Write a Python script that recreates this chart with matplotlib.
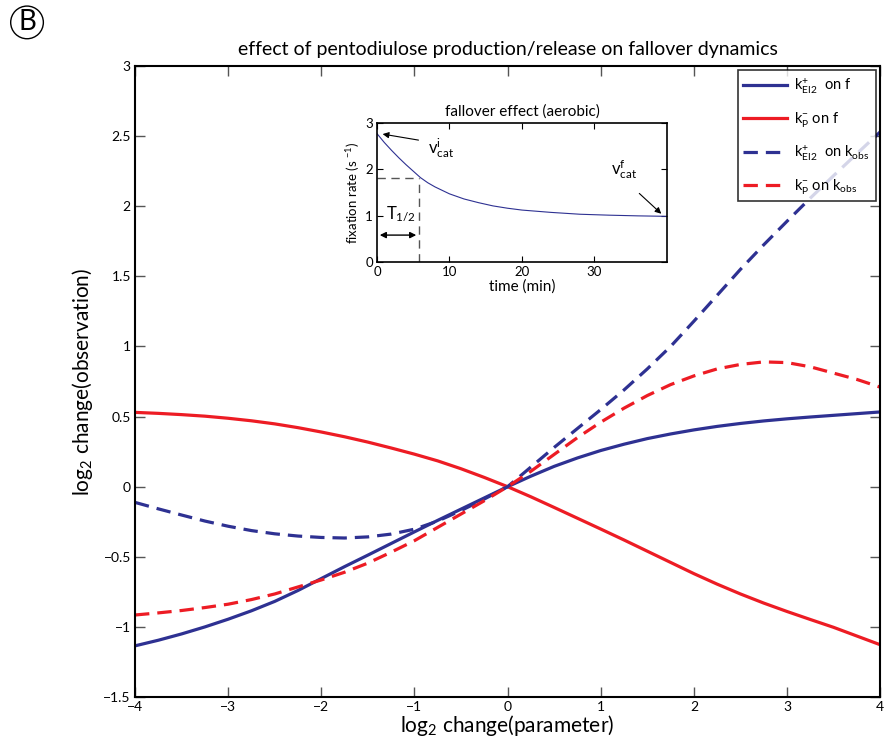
#!/usr/bin/env python3
import matplotlib
matplotlib.use("Agg")
import matplotlib.pyplot as plt

# log2 change of the parameter (shared x grid of the main panel)
log2_param = [-4.0, -3.75, -3.5, -3.25, -3.0, -2.75, -2.5, -2.25, -2.0, -1.75, -1.5,
              -1.25, -1.0, -0.75, -0.5, -0.25, 0.0, 0.25, 0.5, 0.75, 1.0, 1.25, 1.5,
              1.75, 2.0, 2.25, 2.5, 2.75, 3.0, 3.25, 3.5, 3.75, 4.0]

# log2 change of the observation
kei2_on_f = [-1.135, -1.095, -1.050, -1.000, -0.945, -0.885, -0.818, -0.740, -0.655,
             -0.570, -0.488, -0.405, -0.322, -0.240, -0.160, -0.080, 0.0, 0.075, 0.145,
             0.205, 0.258, 0.303, 0.343, 0.376, 0.405, 0.430, 0.451, 0.469, 0.484,
             0.497, 0.509, 0.521, 0.533]
kp_on_f = [0.530, 0.523, 0.514, 0.503, 0.488, 0.470, 0.448, 0.421, 0.390, 0.356, 0.318,
           0.276, 0.232, 0.184, 0.128, 0.066, 0.0, -0.072, -0.148, -0.225, -0.302,
           -0.380, -0.460, -0.540, -0.620, -0.695, -0.765, -0.830, -0.890, -0.947,
           -1.003, -1.065, -1.127]
kei2_on_kobs = [-0.112, -0.158, -0.202, -0.245, -0.282, -0.313, -0.336, -0.352, -0.362,
                -0.366, -0.358, -0.338, -0.303, -0.245, -0.170, -0.088, 0.0, 0.140,
                0.280, 0.415, 0.550, 0.690, 0.840, 1.000, 1.180, 1.365, 1.550, 1.725,
                1.893, 2.058, 2.218, 2.375, 2.530]
kp_on_kobs = [-0.915, -0.900, -0.883, -0.862, -0.838, -0.805, -0.765, -0.715, -0.665,
              -0.610, -0.545, -0.467, -0.385, -0.290, -0.195, -0.100, 0.0, 0.110, 0.230,
              0.350, 0.460, 0.560, 0.650, 0.728, 0.790, 0.840, 0.872, 0.890, 0.885,
              0.855, 0.810, 0.765, 0.710]

# inset: fixation rate over time
time_min = [0, 1, 2, 3, 4, 5, 6, 7, 8, 10, 12, 14, 16, 18, 20, 24, 28, 32, 36, 39.9]
fix_rate = [2.77, 2.58, 2.41, 2.25, 2.10, 1.96, 1.82, 1.71, 1.62, 1.47, 1.36, 1.28,
            1.21, 1.16, 1.12, 1.07, 1.03, 1.01, 0.995, 0.985]
t_half = 5.8
rate_half = 1.82

x_ticks = [-4, -3, -2, -1, 0, 1, 2, 3, 4]
y_ticks = [-1.5, -1, -0.5, 0, 0.5, 1, 1.5, 2, 2.5, 3]
inset_x_ticks = [0, 10, 20, 30]
inset_y_ticks = [0, 1, 2, 3]

BLUE = '#2E3192'
RED = '#ED1C24'


def fmt(v):
    s = ('%g' % v)
    return s.replace('-', '\u2212')


def create_plot():
    plt.rcParams['font.family'] = ['Lato', 'DejaVu Sans']
    plt.rcParams['mathtext.fontset'] = 'custom'
    plt.rcParams['mathtext.rm'] = 'Lato'
    plt.rcParams['mathtext.it'] = 'Lato:italic'

    fig = plt.figure(figsize=(8.86, 7.47), dpi=100)
    ax = fig.add_axes([0.1524, 0.0669, 0.8410, 0.8447])

    dash = (4.5, 2.5)
    ax.plot(log2_param, kei2_on_f, color=BLUE, lw=2.3,
            label=r'k$^{+}_{\mathregular{EI2}}$  on f')
    ax.plot(log2_param, kp_on_f, color=RED, lw=2.3,
            label=r'k$^{-}_{\mathregular{P}}$ on f')
    ax.plot(log2_param, kei2_on_kobs, color=BLUE, lw=2.3, dashes=dash,
            label=r'k$^{+}_{\mathregular{EI2}}$  on k$_{\mathregular{obs}}$')
    ax.plot(log2_param, kp_on_kobs, color=RED, lw=2.3, dashes=dash,
            label=r'k$^{-}_{\mathregular{P}}$ on k$_{\mathregular{obs}}$')

    ax.set_xlim(-4, 4)
    ax.set_ylim(-1.5, 3)
    ax.set_xticks(x_ticks)
    ax.set_xticklabels([fmt(v) for v in x_ticks])
    ax.set_yticks(y_ticks)
    ax.set_yticklabels([fmt(v) for v in y_ticks])
    ax.tick_params(direction='in', length=7, width=1, color='#555555',
                   top=True, right=True, labelsize=10, pad=3)
    for sp in ax.spines.values():
        sp.set_linewidth(1.5)

    ax.set_xlabel(r'log$_{\mathregular{2}}$ change(parameter)', fontsize=15, labelpad=0)
    ax.set_ylabel(r'log$_{\mathregular{2}}$ change(observation)', fontsize=15, labelpad=6)
    ax.set_title('effect of pentodiulose production/release on fallover dynamics',
                 fontsize=14, pad=8)

    leg = ax.legend(loc='upper right', fontsize=10.5, frameon=True, fancybox=False,
                    edgecolor='black', handlelength=3.0, borderaxespad=0.3,
                    labelspacing=0.95, handletextpad=0.5)
    leg.get_frame().set_linewidth(1.2)

    # inset with the fallover curve
    axi = fig.add_axes([0.4255, 0.6493, 0.3273, 0.1861])
    axi.plot(time_min, fix_rate, color=BLUE, lw=0.8)
    axi.plot([0, t_half], [rate_half, rate_half], color='#555555', lw=1, dashes=(6, 4))
    axi.plot([t_half, t_half], [0, rate_half], color='#555555', lw=1, dashes=(6, 4))
    axi.set_xlim(0, 40)
    axi.set_ylim(0, 3)
    axi.set_xticks(inset_x_ticks)
    axi.set_yticks(inset_y_ticks)
    axi.tick_params(direction='in', length=4, width=0.8, top=True, right=True,
                    labelsize=9.5, pad=3)
    for sp in axi.spines.values():
        sp.set_linewidth(1.2)
    axi.set_title('fallover effect (aerobic)', fontsize=11, pad=5)
    axi.set_xlabel('time (min)', fontsize=11, labelpad=1)
    axi.set_ylabel(r'fixation rate (s $^{-1}$)', fontsize=9.5, labelpad=2)

    arr = dict(arrowstyle='-|>', color='black', lw=0.8, mutation_scale=9)
    axi.annotate('', xy=(0.4, 2.77), xytext=(6.1, 2.62), arrowprops=arr)
    axi.text(7.0, 2.45, r'v$^{\mathregular{i}}_{\mathregular{cat}}$', fontsize=12,
             ha='left', va='center')
    axi.annotate('', xy=(39.5, 1.0), xytext=(35.9, 1.52), arrowprops=arr)
    axi.text(32.3, 2.0, r'v$^{\mathregular{f}}_{\mathregular{cat}}$', fontsize=12,
             ha='left', va='center')
    axi.annotate('', xy=(0, 0.58), xytext=(t_half, 0.58),
                 arrowprops=dict(arrowstyle='<|-|>', color='black', lw=1,
                                 mutation_scale=9))
    axi.text(1.3, 1.05, r'T$_{\mathregular{1/2}}$', fontsize=12, ha='left', va='center')

    # panel letter
    fig.text(0.0305, 0.970, 'B', fontsize=20, ha='center', va='center',
             bbox=dict(boxstyle='circle,pad=0.12', fc='white', ec='black', lw=1))

    fig.savefig('out.png', dpi=100)


def main():
    create_plot()


if __name__ == "__main__":
    main()
